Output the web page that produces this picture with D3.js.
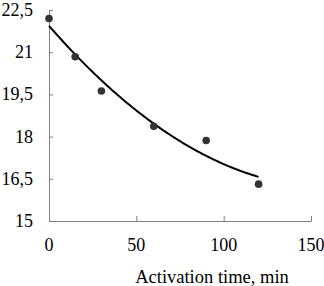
<!DOCTYPE html>
<html>
<head>
<meta charset="utf-8">
<script src="https://cdn.jsdelivr.net/npm/d3@7"></script>
<style>
  body { margin: 0; background: #fff; }
  text { font-family: "Liberation Serif", "Times New Roman", serif; fill: #000; }
</style>
</head>
<body>
<div id="vis-container"></div>
<script>
let width_chart = 324;
let height_chart = 286;

// measured points
let time_min = [0, 15, 30, 60, 90, 120];
let values = [22.2, 20.84, 19.62, 18.37, 17.86, 16.31];
let x_ticks = [0, 50, 100, 150];
let y_ticks = [15, 16.5, 18, 19.5, 21, 22.5];
let x_title = "Activation time, min";

let svg = d3.select("#vis-container").append("svg")
              .attr("width", width_chart)
              .attr("height", height_chart);

let x = d3.scaleLinear().domain([0, 150]).range([49, 311]);
let y = d3.scaleLinear().domain([15, 22.5]).range([221, 10]);

let fmt = d => String(d).replace(".", ",");

// axes, ticks pointing inward
let xAxis = svg.append("g")
    .attr("transform", "translate(0," + y(15) + ")")
    .call(d3.axisTop(x).tickValues(x_ticks).tickSize(5).tickSizeOuter(0).tickFormat(""));
let yAxis = svg.append("g")
    .attr("transform", "translate(" + x(0) + ",0)")
    .call(d3.axisRight(y).tickValues(y_ticks).tickSize(4).tickSizeOuter(0).tickFormat(""));
svg.selectAll(".domain, .tick line").attr("stroke", "#808080").attr("stroke-width", 1);

// tick labels
svg.selectAll("text.xlab")
    .data(x_ticks)
    .enter().append("text")
      .attr("class", "xlab")
      .attr("x", d => x(d))
      .attr("y", 251)
      .attr("text-anchor", "middle")
      .attr("font-size", 18)
      .text(d => d);

svg.selectAll("text.ylab")
    .data(y_ticks)
    .enter().append("text")
      .attr("class", "ylab")
      .attr("x", 33)
      .attr("y", d => y(d) + 6)
      .attr("text-anchor", "end")
      .attr("font-size", 18)
      .text(fmt);

svg.append("text")
    .attr("x", 212)
    .attr("y", 283)
    .attr("text-anchor", "middle")
    .attr("font-size", 18.5)
    .text(x_title);

// 2nd order polynomial trendline (least squares, like Excel)
function polyfit2(xs, ys) {
  let n = xs.length, s = [0, 0, 0, 0, 0], t = [0, 0, 0];
  for (let i = 0; i < n; i++) {
    for (let k = 0; k < 5; k++) s[k] += Math.pow(xs[i], k);
    for (let k = 0; k < 3; k++) t[k] += ys[i] * Math.pow(xs[i], k);
  }
  let A = [[s[0], s[1], s[2], t[0]], [s[1], s[2], s[3], t[1]], [s[2], s[3], s[4], t[2]]];
  for (let i = 0; i < 3; i++) {
    for (let j = i + 1; j < 3; j++) {
      let f = A[j][i] / A[i][i];
      for (let k = i; k < 4; k++) A[j][k] -= f * A[i][k];
    }
  }
  let c = [0, 0, 0];
  for (let i = 2; i >= 0; i--) {
    let v = A[i][3];
    for (let k = i + 1; k < 3; k++) v -= A[i][k] * c[k];
    c[i] = v / A[i][i];
  }
  return c;
}
let coef = polyfit2(time_min, values);
let trend = d3.range(0, 120.01, 1).map(t => [t, coef[0] + coef[1] * t + coef[2] * t * t]);

svg.append("path")
    .datum(trend)
    .attr("fill", "none")
    .attr("stroke", "#000")
    .attr("stroke-width", 2)
    .attr("d", d3.line().x(d => x(d[0])).y(d => y(d[1])));

// data points
svg.selectAll("circle")
    .data(time_min)
    .enter().append("circle")
      .attr("cx", d => x(d))
      .attr("cy", (d, i) => y(values[i]))
      .attr("r", 3.8)
      .attr("fill", "#333");
</script>
</body>
</html>
